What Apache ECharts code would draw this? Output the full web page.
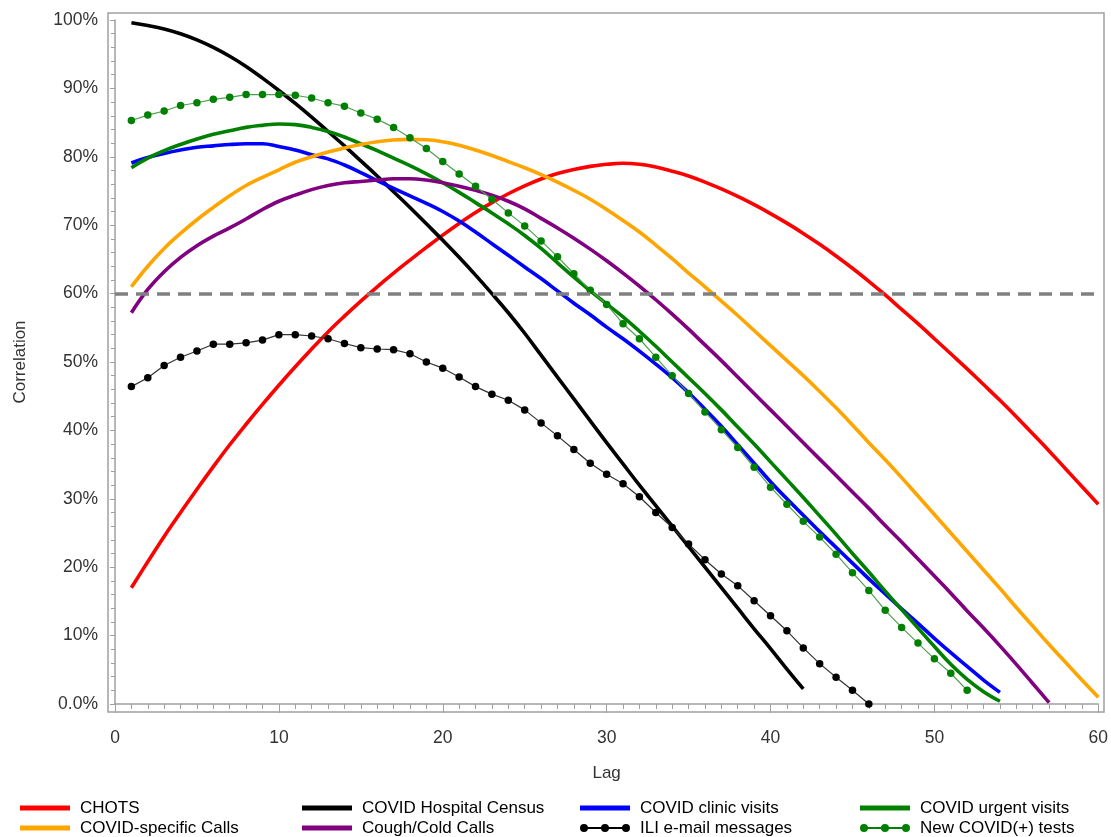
<!DOCTYPE html>
<html>
<head>
<meta charset="utf-8">
<script src="https://cdn.jsdelivr.net/npm/echarts@6/dist/echarts.min.js"></script>
<style>html,body{margin:0;padding:0;background:#fff}#c{width:1111px;height:837px}</style>
</head>
<body>
<div id="c"></div>
<script>
// ---- data (correlation in %, lag = index + 1) ----
const seriesNames = ['CHOTS','COVID Hospital Census','COVID clinic visits','COVID urgent visits','COVID-specific Calls','Cough/Cold Calls','ILI e-mail messages','New COVID(+) tests'];
const chots = [17.0,20.8,24.5,28.0,31.4,34.7,37.9,40.9,43.8,46.6,49.3,51.9,54.4,56.7,58.9,61.0,63.0,64.9,66.75,68.55,70.25,71.85,73.3,74.6,75.75,76.75,77.55,78.15,78.6,78.9,79.05,78.9,78.5,77.9,77.2,76.3,75.3,74.2,73.0,71.7,70.3,68.8,67.2,65.5,63.7,61.8,59.8,57.7,55.6,53.4,51.2,49.0,46.7,44.4,42.0,39.5,37.0,34.4,31.8,29.2];
const census = [99.6,99.2,98.7,98.0,97.1,96.0,94.7,93.2,91.5,89.7,87.8,85.8,83.7,81.6,79.4,77.2,74.9,72.6,70.2,67.8,65.3,62.7,60.0,57.2,54.2,51.0,47.8,44.6,41.4,38.2,35.1,32.0,29.0,26.0,23.0,20.0,17.0,14.0,11.0,8.1,5.1,2.2];
const clinic = [79.1,79.9,80.5,81.0,81.4,81.6,81.8,81.9,81.9,81.5,81.0,80.3,79.7,78.8,77.7,76.5,75.4,74.3,73.2,72.0,70.6,69.0,67.3,65.6,63.9,62.2,60.4,58.6,56.9,55.1,53.4,51.6,49.7,47.7,45.5,43.1,40.6,37.9,35.2,32.5,30.0,27.6,25.2,22.9,20.6,18.3,16.1,13.9,11.8,9.6,7.5,5.5,3.5,1.7];
const urgent = [78.4,79.8,80.9,81.8,82.6,83.3,83.8,84.3,84.6,84.8,84.7,84.3,83.7,82.9,81.9,80.9,79.8,78.7,77.5,76.2,74.8,73.3,71.8,70.2,68.5,66.6,64.5,62.4,60.4,58.5,56.6,54.5,52.3,50.0,47.7,45.4,43.0,40.5,38.0,35.4,32.8,30.2,27.5,24.8,22.0,19.3,16.5,13.8,11.1,8.4,5.8,3.6,1.8,0.4];
const specificCalls = [61.0,64.0,66.6,68.8,70.8,72.6,74.3,75.8,77.0,78.1,79.2,80.0,80.7,81.3,81.8,82.2,82.45,82.55,82.5,82.2,81.7,81.0,80.2,79.3,78.4,77.4,76.3,75.1,73.8,72.3,70.7,69.0,67.1,65.1,63.0,61.0,58.9,56.8,54.6,52.4,50.2,48.0,45.7,43.3,40.8,38.2,35.7,33.1,30.4,27.7,25.0,22.3,19.6,16.9,14.1,11.4,8.7,6.1,3.5,1.0];
const coughCalls = [57.2,60.6,63.2,65.3,67.0,68.4,69.6,70.9,72.3,73.5,74.4,75.2,75.8,76.2,76.4,76.6,76.8,76.8,76.6,76.2,75.7,75.1,74.4,73.5,72.4,71.0,69.6,68.1,66.5,64.8,63.0,61.1,59.1,57.0,54.8,52.5,50.2,47.8,45.4,43.0,40.6,38.2,35.8,33.4,31.0,28.6,26.1,23.7,21.2,18.7,16.2,13.6,11.1,8.5,5.8,3.0,0.2];
const iliEmail = [46.4,47.7,49.5,50.7,51.6,52.6,52.6,52.8,53.2,54.0,54.0,53.8,53.4,52.7,52.1,51.9,51.8,51.2,50.0,49.1,47.8,46.4,45.3,44.4,43.0,41.1,39.2,37.2,35.2,33.6,32.2,30.3,28.0,25.8,23.4,21.1,19.0,17.3,15.1,12.9,10.7,8.2,5.9,3.9,2.0,0.0];
const newTests = [85.3,86.1,86.7,87.5,87.9,88.4,88.7,89.1,89.1,89.1,89.0,88.6,87.9,87.4,86.4,85.5,84.3,82.8,81.2,79.3,77.5,75.7,73.8,71.8,69.9,67.7,65.4,62.9,60.5,58.4,55.6,53.4,50.7,48.0,45.4,42.7,40.1,37.5,34.6,31.7,29.2,26.7,24.4,21.9,19.2,16.6,13.7,11.2,8.9,6.6,4.5,2.0];
const referenceLine = 60;
const xTicks = [0,10,20,30,40,50,60];
const yTicks = [0,10,20,30,40,50,60,70,80,90,100];

// ---- layout ----
const G = {left:115, right:10, top:20, bottom:133};
const W = 1111, H = 837;
const pad = {l:7, r:3, t:7, b:8};
const FONT = 'Liberation Sans, Arial, sans-serif';

function pts(arr){ return arr.map((v,i)=>[i+1, v]); }

const solid = (name, arr, color) => ({
  name, type:'line', data:pts(arr), symbol:'none', smooth:0.4,
  lineStyle:{color, width:3.6}, itemStyle:{color}, z:2
});
const dotted = (name, arr, color, lineColor) => ({
  name, type:'line', data:pts(arr), symbol:'circle', symbolSize:7.5, showSymbol:true,
  lineStyle:{color:lineColor, width:1.2}, itemStyle:{color}, z:3
});

const lineIcon = 'path://M0,0h0.01v0.01h-0.01z M0,3.5h50v5h-50z M49.99,11.99h0.01v0.01h-0.01z';
const dotIcon = 'path://M0,0h0.01v0.01h-0.01z M2,5h46v2h-46z M0,6a4,4 0 1,1 8,0a4,4 0 1,1 -8,0z M21,6a4,4 0 1,1 8,0a4,4 0 1,1 -8,0z M42,6a4,4 0 1,1 8,0a4,4 0 1,1 -8,0z M49.99,11.99h0.01v0.01h-0.01z';

const series = [
  solid(seriesNames[0], chots, '#ff0000'),
  solid(seriesNames[1], census, '#000000'),
  solid(seriesNames[2], clinic, '#0000ff'),
  solid(seriesNames[3], urgent, '#008000'),
  solid(seriesNames[4], specificCalls, '#ffa500'),
  solid(seriesNames[5], coughCalls, '#800080'),
  dotted(seriesNames[6], iliEmail, '#000000', '#333333'),
  dotted(seriesNames[7], newTests, '#008000', '#4f9f4f')
];
series[0].markLine = {
  silent:true, symbol:'none', label:{show:false},
  lineStyle:{color:'#808080', width:3.5, type:[13,8]},
  data:[{yAxis:referenceLine}]
};

const legendCols = [[0,4],[1,5],[2,6],[3,7]];
const legendLeft = [15, 297, 575, 855];
const legends = legendCols.map((col,k)=>({
  orient:'vertical', left:legendLeft[k], top:794, height:70,
  itemWidth:50, itemHeight:12, itemGap:2,
  selectedMode:false,
  textStyle:{fontFamily:FONT, fontSize:17, lineHeight:18, color:'#000', padding:[0,0,0,5]},
  data: col.map(i => ({name:seriesNames[i], icon: i>=6 ? dotIcon : lineIcon}))
}));

const axisGray = '#a0a0a0';
const option = {
  animation:false,
  backgroundColor:'#fff',
  textStyle:{fontFamily:FONT},
  grid:{left:G.left, right:G.right, top:G.top, bottom:G.bottom},
  legend: legends,
  xAxis:{
    type:'value', min:xTicks[0], max:xTicks[xTicks.length-1], interval:10, offset:pad.b,
    axisLine:{show:true, lineStyle:{color:axisGray, width:1.5}},
    axisTick:{show:true, length:9, lineStyle:{color:axisGray}},
    minorTick:{show:true, splitNumber:10, length:5, lineStyle:{color:axisGray}},
    splitLine:{show:false},
    axisLabel:{fontFamily:FONT, fontSize:17.5, color:'#333', margin:17},
    name:'Lag', nameLocation:'middle', nameGap:53,
    nameTextStyle:{fontFamily:FONT, fontSize:17, color:'#333'}
  },
  yAxis:{
    type:'value', min:yTicks[0], max:yTicks[yTicks.length-1], interval:10, offset:pad.l,
    axisLine:{show:true, lineStyle:{color:axisGray, width:1.5}},
    axisTick:{show:true, length:5, lineStyle:{color:axisGray}},
    minorTick:{show:true, splitNumber:5, length:4, lineStyle:{color:axisGray}},
    splitLine:{show:false},
    axisLabel:{fontFamily:FONT, fontSize:17.5, color:'#333', margin:10,
      formatter: v => v===0 ? '0.0%' : v + '%'},
    name:'Correlation', nameLocation:'middle', nameGap:79,
    nameTextStyle:{fontFamily:FONT, fontSize:17, color:'#333'}
  },
  graphic:[{
    type:'rect', silent:true, z:-1,
    shape:{x:G.left-pad.l, y:G.top-pad.t, width:(W-G.right+pad.r)-(G.left-pad.l), height:(H-G.bottom+pad.b)-(G.top-pad.t)},
    style:{fill:'none', stroke:axisGray, lineWidth:1.5}
  }],
  series
};
const chart = echarts.init(document.getElementById('c'), null, {renderer:'canvas'});
chart.setOption(option);
</script>
</body>
</html>
